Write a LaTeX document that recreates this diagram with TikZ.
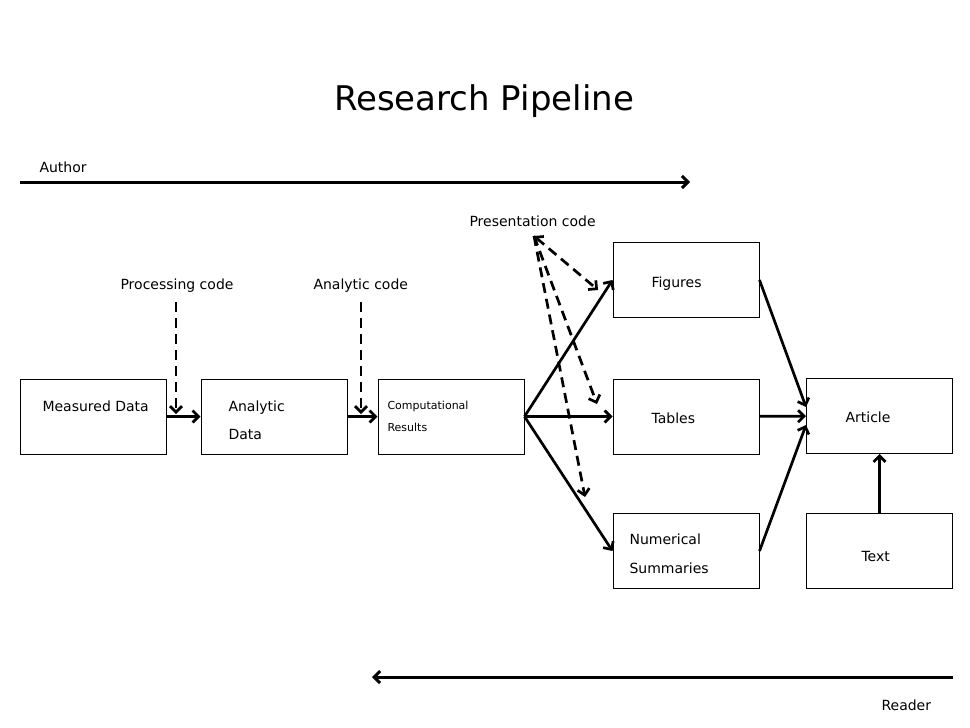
\documentclass[tikz,border=0pt]{standalone}
\usepackage{fontspec}
\setmainfont{DejaVu Sans}
\usetikzlibrary{arrows.meta, positioning}
\tikzset{
>={Straight Barb[length=6pt,width=12pt]}, % open arrow heads
stage/.style={draw, line width=1pt, minimum width=146pt, minimum height=75pt, inner sep=0pt}, % the boxes
tag/.style={anchor=west, font=\fontsize{14}{17}\selectfont}, % text inside boxes
flow/.style={->, line width=2.7pt}, % solid connectors
code/.style={->, line width=2.7pt, dash pattern=on 10pt off 6pt}, % dashed code arrows
}

\begin{document}
\begin{tikzpicture}[x=1pt, y=-1pt]
  \useasboundingbox (0,0) rectangle (970,728);

  % Title
  \node[font=\fontsize{34}{40}\selectfont] (title) at (484,101) {Research Pipeline};

  % Author / Reader
  \coordinate (authA) at (20,182);
  \coordinate (authB) at (690,182);
  \node[tag] (author) at (36,167) {Author};
  \draw[flow, line width=3pt] (authA) -- (authB);
  \coordinate (readA) at (953,677);
  \coordinate (readB) at (372,677);
  \node[tag] (reader) at (878,705) {Reader};
  \draw[flow, line width=3pt] (readA) -- (readB);

  % Boxes
  \node[stage] (meas) at (93,416.5) {};
  \node[stage] (ana) at (274,416.5) {};
  \node[stage] (comp) at (451,416.5) {};
  \node[stage] (figs) at (686,280) {};
  \node[stage] (tabs) at (686,416.5) {};
  \node[stage] (num) at (686,551) {};
  \node[stage] (art) at (879.5,416) {};
  \node[stage] (txt) at (879.5,551) {};

  % Box texts
  \node[tag] (measT) at (39,406) {Measured Data};
  \node[tag, align=left, font=\fontsize{14}{28}\selectfont] (anaT) at (225,420) {Analytic\\Data};
  \node[tag, align=left, font=\fontsize{11}{22}\selectfont] (compT) at (384,416) {Computational\\Results};
  \node[tag] (figsT) at (648,284) {Figures};
  \node[tag] (tabsT) at (648,418) {Tables};
  \node[tag, align=left, font=\fontsize{14}{29}\selectfont] (numT) at (626,553.5) {Numerical\\Summaries};
  \node[tag] (artT) at (842,417) {Article};
  \node[tag] (txtT) at (858,556) {Text};

  % Code labels
  \node[tag] (proc) at (117,286) {Processing code};
  \node[tag] (anac) at (310,286) {Analytic code};
  \node[tag] (pres) at (466,221) {Presentation code};
  \coordinate (procEnd) at (176,414);
  \coordinate (anacEnd) at (361,414);
  \coordinate (procTop) at (176,302);
  \coordinate (anacTop) at (361,302);
  \coordinate (presTop) at (534,236);
  \coordinate (presFig) at (598,290);
  \coordinate (presTab) at (597,404);
  \coordinate (presNum) at (585,497);

  % Solid connectors
  \path[flow]
    (meas) edge (ana)
    (ana) edge (comp)
    (comp.east) edge (figs.west)
    (comp.east) edge (tabs.west)
    (comp.east) edge (num.west)
    (figs.east) edge (art.173)
    (tabs) edge (art)
    (num.east) edge (art.187)
    (txt) edge (art);

  % Dashed connectors
  \path[code]
    (procTop) edge (procEnd)
    (anacTop) edge (anacEnd)
    (presTop) edge[<->] (presFig)
    (presTop) edge (presTab)
    (presTop) edge (presNum);
\end{tikzpicture}
\end{document}
